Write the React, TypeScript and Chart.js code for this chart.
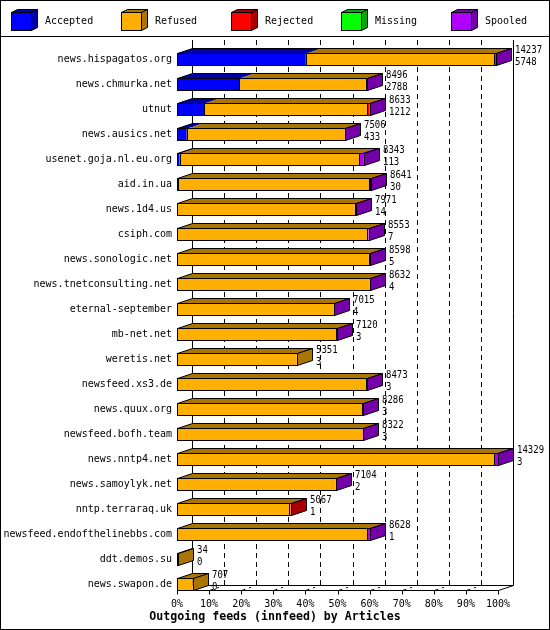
import React, { useEffect, useRef } from 'react';
import { Chart, registerables } from 'chart.js';

Chart.register(...registerables);

// ---------------- data ----------------
const categories = [
  'news.hispagatos.org',
  'news.chmurka.net',
  'utnut',
  'news.ausics.net',
  'usenet.goja.nl.eu.org',
  'aid.in.ua',
  'news.1d4.us',
  'csiph.com',
  'news.sonologic.net',
  'news.tnetconsulting.net',
  'eternal-september',
  'mb-net.net',
  'weretis.net',
  'newsfeed.xs3.de',
  'news.quux.org',
  'newsfeed.bofh.team',
  'news.nntp4.net',
  'news.samoylyk.net',
  'nntp.terraraq.uk',
  'newsfeed.endofthelinebbs.com',
  'ddt.demos.su',
  'news.swapon.de',
];

// total offered (upper label) and accepted (lower label)
const offered = [14237, 8496, 8633, 7506, 8343, 8641, 7971, 8553, 8598, 8632, 7015, 7120, 5351, 8473, 8286, 8322, 14329, 7104, 5067, 8628, 34, 707];
const accepted = [5748, 2788, 1212, 433, 113, 30, 14, 7, 5, 4, 4, 3, 3, 3, 3, 3, 3, 2, 1, 1, 0, 0];
const refused = [8409, 5638, 7291, 7058, 8030, 8521, 7917, 8486, 8553, 8608, 6996, 7077, 5348, 8415, 8268, 8279, 14146, 7087, 5006, 8497, 34, 707];
const rejected = [0, 0, 90, 0, 0, 60, 0, 0, 0, 0, 0, 0, 0, 0, 0, 0, 0, 0, 60, 0, 0, 0];
const missing = [0, 0, 0, 0, 0, 0, 0, 0, 0, 0, 0, 0, 0, 0, 0, 0, 0, 0, 0, 0, 0, 0];
const spooled = [80, 70, 40, 15, 200, 30, 40, 60, 40, 20, 15, 40, 0, 55, 15, 40, 180, 15, 0, 130, 0, 0];

const seriesNames = ['Accepted', 'Refused', 'Rejected', 'Missing', 'Spooled'];
const seriesValues = [accepted, refused, rejected, missing, spooled];
const frontColors = ['#0000FF', '#FFAF00', '#FF0000', '#00FF00', '#AF00FF'];
const darkColors = ['#0000AA', '#AA7500', '#AA0000', '#00AA00', '#7500AA'];
const tickPercents = [0, 10, 20, 30, 40, 50, 60, 70, 80, 90, 100];
const chartTitle = 'Outgoing feeds (innfeed) by Articles';

// ---------------- style ----------------
const MONO = '"DejaVu Sans Mono", "Liberation Mono", monospace';
const DX = 15;
const DY = 5;
const BAR = 13;
const W = 550;
const H = 630;

const maxTotal = Math.max(...offered);

function poly(ctx: CanvasRenderingContext2D, pts: number[][]) {
  ctx.beginPath();
  ctx.moveTo(pts[0][0], pts[0][1]);
  for (let i = 1; i < pts.length; i++) ctx.lineTo(pts[i][0], pts[i][1]);
  ctx.closePath();
}

function line(ctx: CanvasRenderingContext2D, x1: number, y1: number, x2: number, y2: number) {
  ctx.beginPath();
  ctx.moveTo(x1, y1);
  ctx.lineTo(x2, y2);
  ctx.stroke();
}

const threeDPlugin = {
  id: 'threeD',
  beforeDraw(chart: any) {
    const ctx = chart.ctx as CanvasRenderingContext2D;
    ctx.save();
    ctx.fillStyle = '#fff';
    ctx.fillRect(0, 0, W, H);
    ctx.restore();
  },
  beforeDatasetsDraw(chart: any) {
    const ctx = chart.ctx as CanvasRenderingContext2D;
    const xs = chart.scales.x;
    const ys = chart.scales.y;
    const n = categories.length;
    const px = (p: number) => Math.round(xs.getPixelForValue((maxTotal * p) / 100));
    const floorFront = Math.round(ys.getPixelForValue(n - 1) + BAR / 2) - 0.5;
    const floorBack = floorFront - DY;
    const topY = chart.chartArea.top - 7;
    ctx.save();
    ctx.strokeStyle = '#000';
    ctx.lineWidth = 1;
    // dashed back grid lines
    ctx.setLineDash([5, 4]);
    for (const p of tickPercents) {
      if (p === 0 || p === 100) continue;
      const X = px(p) + DX + 0.5;
      line(ctx, X, topY, X, floorBack);
    }
    ctx.setLineDash([]);
    // back walls
    const X0 = px(0) + DX + 0.5;
    const X100 = px(100) + DX + 0.5;
    line(ctx, X0, topY, X0, floorBack);
    line(ctx, X100, topY, X100, floorBack);
    // floor
    line(ctx, X0, floorBack, X100, floorBack);
    line(ctx, px(0) + 0.5, floorFront, px(100) + 0.5, floorFront);
    line(ctx, px(0) + 0.5, floorFront, X0, floorBack);
    line(ctx, px(100) + 0.5, floorFront, X100, floorBack);
    // dashed floor diagonals
    ctx.setLineDash([4, 4, 2, 100]);
    for (const p of tickPercents) {
      if (p === 0 || p === 100) continue;
      line(ctx, px(p) + 0.5, floorFront, px(p) + DX + 0.5, floorBack);
    }
    ctx.setLineDash([]);
    // front ticks
    for (const p of tickPercents) {
      line(ctx, px(p) + 0.5, floorFront, px(p) + 0.5, floorFront + 4);
    }
    ctx.restore();
  },
  afterDatasetsDraw(chart: any) {
    const ctx = chart.ctx as CanvasRenderingContext2D;
    const xs = chart.scales.x;
    const nD = chart.data.datasets.length;
    ctx.save();
    ctx.strokeStyle = '#000';
    ctx.lineWidth = 1;
    for (let i = 0; i < categories.length; i++) {
      const segs: { a: number; b: number; d: number }[] = [];
      let ref: any = null;
      for (let d = 0; d < nD; d++) {
        const el = chart.getDatasetMeta(d).data[i];
        if (!ref) ref = el;
        const v = chart.data.datasets[d].data[i];
        if (v > 0) segs.push({ a: Math.round(el.base), b: Math.round(el.x), d });
      }
      if (!ref) continue;
      const L = Math.round(xs.getPixelForValue(0));
      const R = segs.length ? Math.max(...segs.map((s) => s.b)) : L;
      const T = Math.round(ref.y - ref.height / 2);
      const B = Math.round(ref.y + ref.height / 2) - 1;
      const lastD = segs.length ? segs[segs.length - 1].d : 1;
      // top faces
      for (const s of segs) {
        ctx.fillStyle = darkColors[s.d];
        poly(ctx, [
          [s.a + 0.5, T + 0.5],
          [s.b + 0.5, T + 0.5],
          [s.b + DX + 0.5, T - DY + 0.5],
          [s.a + DX + 0.5, T - DY + 0.5],
        ]);
        ctx.fill();
      }
      poly(ctx, [
        [L + 0.5, T + 0.5],
        [R + 0.5, T + 0.5],
        [R + DX + 0.5, T - DY + 0.5],
        [L + DX + 0.5, T - DY + 0.5],
      ]);
      ctx.stroke();
      // side face
      ctx.fillStyle = darkColors[lastD];
      poly(ctx, [
        [R + 0.5, T + 0.5],
        [R + DX + 0.5, T - DY + 0.5],
        [R + DX + 0.5, B - DY + 0.5],
        [R + 0.5, B + 0.5],
      ]);
      ctx.fill();
      ctx.stroke();
      // front outline and separators
      ctx.strokeRect(L + 0.5, T + 0.5, R - L, B - T);
      segs.forEach((s, k) => {
        if (k > 0) line(ctx, s.a + 0.5, T + 0.5, s.a + 0.5, B + 0.5);
      });
      // value labels
      ctx.fillStyle = '#000';
      ctx.font = `9px ${MONO}`;
      ctx.textAlign = 'left';
      ctx.textBaseline = 'middle';
      const lx = R + DX + 4;
      const texts = [String(offered[i]), String(accepted[i])];
      const ycs = [T - 2.5, T + 8.7];
      texts.forEach((t, k) => {
        ctx.save();
        ctx.translate(lx, ycs[k]);
        ctx.scale(1, 1.2);
        ctx.fillText(t, 0, 0);
        ctx.restore();
      });
    }
    ctx.restore();
  },
  afterDraw(chart: any) {
    const ctx = chart.ctx as CanvasRenderingContext2D;
    ctx.save();
    ctx.strokeStyle = '#000';
    ctx.lineWidth = 1;
    // legend
    const ds = chart.data.datasets;
    for (let k = 0; k < ds.length; k++) {
      const x = 11 + k * 110;
      const t = 12;
      const w = 20;
      const h = 18;
      ctx.fillStyle = darkColors[k];
      poly(ctx, [
        [x + 0.5, t + 0.5],
        [x + w + 0.5, t + 0.5],
        [x + w + 6.5, t - 2.5],
        [x + 6.5, t - 2.5],
      ]);
      ctx.fill();
      ctx.stroke();
      poly(ctx, [
        [x + w + 0.5, t + 0.5],
        [x + w + 6.5, t - 2.5],
        [x + w + 6.5, t + h - 2.5],
        [x + w + 0.5, t + h + 0.5],
      ]);
      ctx.fill();
      ctx.stroke();
      ctx.fillStyle = frontColors[k];
      ctx.fillRect(x + 0.5, t + 0.5, w, h);
      ctx.strokeRect(x + 0.5, t + 0.5, w, h);
      ctx.fillStyle = '#000';
      ctx.font = `10px ${MONO}`;
      ctx.textAlign = 'left';
      ctx.textBaseline = 'alphabetic';
      ctx.fillText(ds[k].label, x + 34, 24);
    }
    // separator and frame
    line(ctx, 0, 36.5, W, 36.5);
    ctx.strokeRect(0.5, 0.5, W - 1, H - 1);
    // title
    ctx.fillStyle = '#000';
    ctx.font = `bold 11.6px ${MONO}`;
    ctx.textAlign = 'center';
    ctx.textBaseline = 'alphabetic';
    ctx.fillText(chartTitle, 275, 620);
    ctx.restore();
  },
};

export default function App() {
  const ref = useRef<HTMLCanvasElement | null>(null);
  useEffect(() => {
    document.body.style.margin = '0';
    if (!ref.current) return;
    const chart = new Chart(ref.current, {
      type: 'bar',
      data: {
        labels: categories,
        datasets: seriesNames.map((name, k) => ({
          label: name,
          data: seriesValues[k],
          backgroundColor: frontColors[k],
          borderWidth: 0,
          barThickness: BAR,
          inflateAmount: 0,
        })),
      },
      options: {
        responsive: false,
        animation: false,
        devicePixelRatio: 1,
        indexAxis: 'y',
        layout: { padding: { top: 47, right: 52, bottom: 0, left: 0 } },
        plugins: {
          legend: { display: false },
          tooltip: { enabled: false },
          title: { display: false },
        },
        scales: {
          x: {
            type: 'linear',
            stacked: true,
            min: 0,
            max: maxTotal,
            position: 'bottom',
            grid: { display: false, drawTicks: false },
            border: { display: false },
            afterBuildTicks: (s: any) => {
              s.ticks = tickPercents.map((p) => ({ value: (maxTotal * p) / 100 }));
            },
            afterFit: (s: any) => {
              s.height = 33;
            },
            ticks: {
              autoSkip: false,
              maxRotation: 0,
              padding: 1,
              color: '#000',
              font: { family: MONO, size: 10 },
              callback: (v: any) => Math.round((Number(v) / maxTotal) * 100) + '%',
            },
          },
          y: {
            type: 'category',
            stacked: true,
            grid: { display: false, drawTicks: false },
            border: { display: false },
            afterFit: (s: any) => {
              s.width = 177;
            },
            ticks: {
              autoSkip: false,
              padding: 5,
              color: '#000',
              font: { family: MONO, size: 10 },
            },
          },
        },
      },
      plugins: [threeDPlugin],
    } as any);
    return () => chart.destroy();
  }, []);
  return (
    <div style={{ position: 'absolute', left: 0, top: 0, width: W, height: H }}>
      <canvas ref={ref} width={W} height={H} style={{ display: 'block', width: W, height: H }} />
    </div>
  );
}
